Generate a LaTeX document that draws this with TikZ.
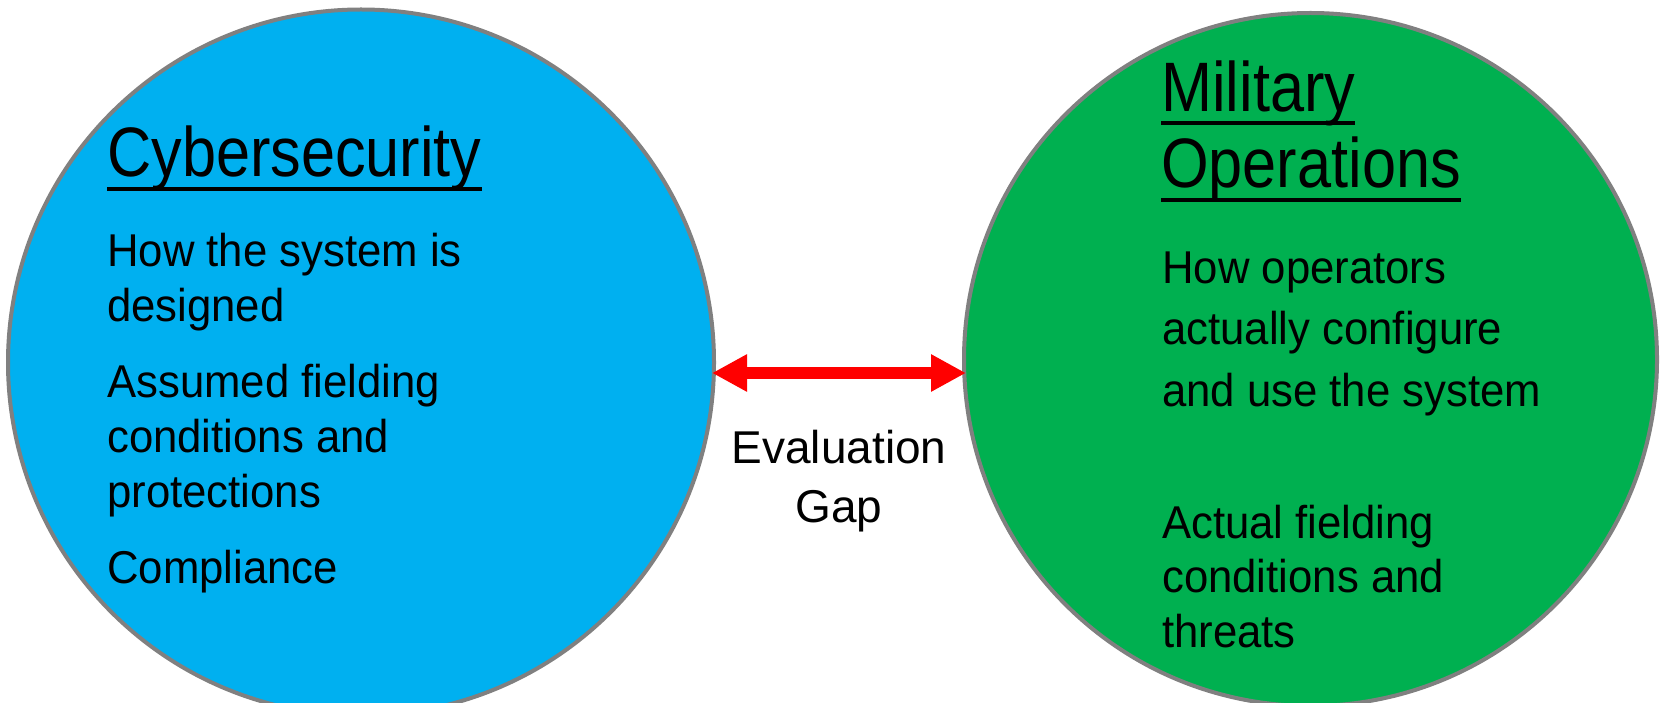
\documentclass[tikz,border=0pt]{standalone}
\usepackage{fontspec}
\setmainfont{Liberation Sans}
\newfontfamily\titlefont[FakeStretch=0.875]{Liberation Sans}
\newfontfamily\bodyfont[FakeStretch=0.95]{Liberation Sans}
\usetikzlibrary{arrows.meta}
\definecolor{cyberblue}{HTML}{00B0F0}
\definecolor{milgreen}{HTML}{00B050}
\definecolor{rimgray}{HTML}{808080}
\definecolor{gapred}{HTML}{FF0000}
\begin{document}
\begin{tikzpicture}[x=1pt,y=1pt,
  bubble/.style={circle,draw=rimgray,line width=4pt,inner sep=0pt,outer sep=0pt},
  titletext/.style={anchor=base west,inner sep=0pt,font=\titlefont\fontsize{70}{76}\selectfont},
  bodytext/.style={anchor=base west,inner sep=0pt,font=\bodyfont\fontsize{46}{55}\selectfont},
  gaptext/.style={anchor=base,inner sep=0pt,font=\fontsize{46}{55}\selectfont},
  ul/.style={line width=3.5pt,black},
  gaparrow/.style={gapred,line width=12pt,{Triangle[length=35pt,width=35pt]}-{Triangle[length=35pt,width=35pt]}}]
\useasboundingbox (0,0) rectangle (1661,702);
\fill[white] (0,0) rectangle (1661,702);
% circles
\node[bubble,fill=cyberblue,minimum size=706pt] (L) at (361,339.5) {};
\node[bubble,fill=milgreen,minimum size=693pt] (R) at (1310.5,342.5) {};
% left texts
\node[titletext] (lt) at (107,525) {Cybersecurity};
\draw[ul] ([yshift=-12pt]lt.base west) -- ([yshift=-12pt]lt.base east);
\node[bodytext] (l1) at (107,435) {How the system is};
\node[bodytext] (l2) at (107,380) {designed};
\node[bodytext] (l3) at (107,305) {Assumed fielding};
\node[bodytext] (l4) at (107,250) {conditions and};
\node[bodytext] (l5) at (107,195) {protections};
\node[bodytext] (l6) at (107,119) {Compliance};
% right texts
\node[titletext] (rt1) at (1161,590) {Military};
\draw[ul] ([yshift=-11pt]rt1.base west) -- ([yshift=-11pt]rt1.base east);
\node[titletext] (rt2) at (1161,514) {Operations};
\draw[ul] ([yshift=-12pt]rt2.base west) -- ([yshift=-12pt]rt2.base east);
\node[bodytext] (r1) at (1162,418) {How operators};
\node[bodytext] (r2) at (1162,357) {actually configure};
\node[bodytext] (r3) at (1162,295) {and use the system};
\node[bodytext] (r4) at (1162,164) {Actual fielding};
\node[bodytext] (r5) at (1162,110) {conditions and};
\node[bodytext] (r6) at (1162,55) {threats};
% gap
\draw[gaparrow] ([xshift=-2pt,yshift=-10.5pt]L.east) -- ([xshift=2pt,yshift=-13.5pt]R.west);
\node[gaptext] (g1) at (839,239) {Evaluation};
\node[gaptext] (g2) at (839,180) {Gap};
\end{tikzpicture}
\end{document}
